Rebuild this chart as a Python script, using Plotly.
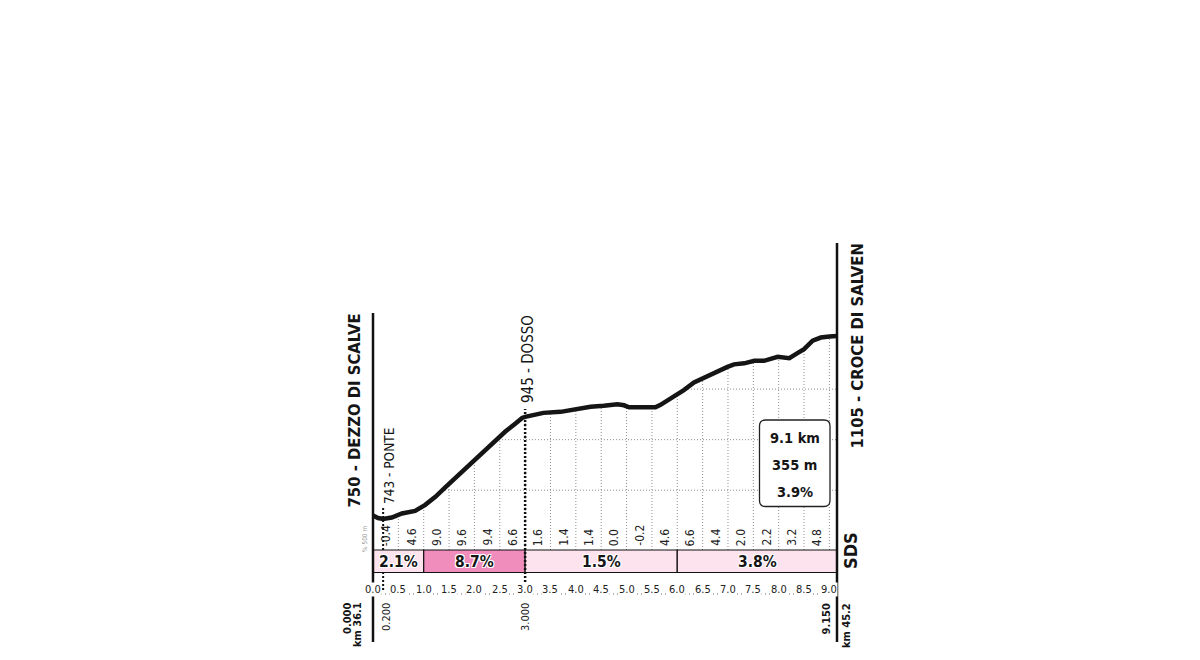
import plotly.graph_objects as go

# ---------------- data ----------------
km = [0.00, 0.10, 0.20, 0.37, 0.57, 0.83, 1.03, 1.23, 1.43, 1.62, 1.82, 2.02, 2.22,
      2.42, 2.61, 2.81, 2.94, 3.00, 3.17, 3.36, 3.70, 3.96, 4.29, 4.55, 4.82, 4.95,
      5.05, 5.28, 5.57, 5.67, 5.80, 6.00, 6.13, 6.33, 6.53, 6.73, 6.99, 7.12, 7.32,
      7.52, 7.71, 7.98, 8.21, 8.37, 8.50, 8.67, 8.83, 9.00, 9.15]
elev = [750, 745, 743, 746, 754, 759, 771, 787, 806, 824, 841, 860, 880,
        899, 916, 932, 943, 945, 949, 953, 955, 960, 965, 967, 970, 968,
        964, 964, 964, 969, 977, 988, 998, 1013, 1023, 1031, 1044, 1049, 1051,
        1056, 1056, 1064, 1061, 1071, 1079, 1096, 1102, 1104, 1105]

km_ticks = [0.0, 0.5, 1.0, 1.5, 2.0, 2.5, 3.0, 3.5, 4.0, 4.5, 5.0, 5.5, 6.0, 6.5,
            7.0, 7.5, 8.0, 8.5, 9.0]
km_tick_labels = ["0.0", "0.5", "1.0", "1.5", "2.0", "2.5", "3.0", "3.5", "4.0", "4.5",
                  "5.0", "5.5", "6.0", "6.5", "7.0", "7.5", "8.0", "8.5", "9.0"]
grad_500 = ["-0.4", "4.6", "9.0", "9.6", "9.4", "6.6", "1.6", "1.4", "1.4", "0.0",
            "-0.2", "4.6", "6.6", "4.4", "2.0", "2.2", "3.2", "4.8"]
elev_grid = [800, 900, 1000]

seg_start = [0.0, 1.0, 3.0, 6.0]
seg_end = [1.0, 3.0, 6.0, 9.15]
seg_pct = ["2.1%", "8.7%", "1.5%", "3.8%"]
seg_color = ["#fde3ee", "#f08dbd", "#fde3ee", "#fde3ee"]

start_name = "750 - DEZZO DI SCALVE"
end_name = "1105 - CROCE DI SALVEN"
poi_km = [0.2, 3.0]
poi_name = ["743 - PONTE", "945 - DOSSO"]
stats = ["9.1 km", "355 m", "3.9%"]
total_km = 9.15

FONT = "DejaVu Sans Condensed, DejaVu Sans, sans-serif"

# --------------- pixel helpers (layout positions) ---------------
L, T, B = 373, 230, 650
R = 1200 - 363
K = 1.978  # metres per pixel
PXKM = (R - L) / total_km


def ey(py):
    return 750 + (515.5 - py) * K


def kx(px):
    return (px - L) / PXKM


def xp(px):
    return (px - L) / (R - L)


def yp(py):
    return (B - py) / (B - T)


y_top = ey(T)
y_bot = ey(B)

fig = go.Figure()

# invisible top boundary for the white mask above the profile
fig.add_trace(go.Scatter(x=km, y=[y_top] * len(km), mode="lines",
                         line=dict(width=0, color="white"), hoverinfo="skip",
                         showlegend=False))
fig.add_trace(go.Scatter(x=km, y=elev, mode="lines", fill="tonexty",
                         fillcolor="white",
                         line=dict(color="#151515", width=4.5),
                         hoverinfo="skip", showlegend=False))

GRID = dict(color="#8f8f8f", width=1, dash="1px,2px")
DOTS = dict(color="#111", width=2, dash="2px,2px")

shapes = []
strip_top = ey(550)
strip_bot = ey(572.5)
for t in km_ticks[1:]:
    shapes.append(dict(type="line", xref="x", yref="y", x0=t, x1=t,
                       y0=strip_top, y1=y_top, layer="below", line=GRID))
for g in elev_grid:
    shapes.append(dict(type="line", xref="x", yref="y", x0=0, x1=total_km,
                       y0=g, y1=g, layer="below", line=GRID))

# Ponte marker line (under strip)
shapes.append(dict(type="line", xref="x", yref="y", x0=poi_km[0], x1=poi_km[0],
                   y0=ey(590), y1=ey(507), layer="above", line=DOTS))

# gradient strip
for s, e, c in zip(seg_start, seg_end, seg_color):
    shapes.append(dict(type="rect", xref="x", yref="y", x0=s, x1=e,
                       y0=strip_bot, y1=strip_top, layer="above",
                       fillcolor=c, line=dict(color="#111", width=1.2)))

# Dosso marker line
shapes.append(dict(type="line", xref="x", yref="y", x0=poi_km[1], x1=poi_km[1],
                   y0=ey(594), y1=ey(409), layer="above",
                   line=dict(color="#111", width=2.5, dash="2px,2px")))

# km dotted baseline
shapes.append(dict(type="line", xref="x", yref="y", x0=0, x1=total_km,
                   y0=ey(594), y1=ey(594), layer="below",
                   line=dict(color="#666", width=1, dash="1px,3px")))

# borders
shapes.append(dict(type="line", xref="paper", yref="paper", x0=0, x1=0,
                   y0=yp(642), y1=yp(313), line=dict(color="#111", width=2.5)))
shapes.append(dict(type="line", xref="paper", yref="paper", x0=1, x1=1,
                   y0=yp(642), y1=yp(243), line=dict(color="#111", width=2.5)))

# stats box with rounded corners
bx0, bx1 = kx(759.5), kx(830)
by0, by1 = ey(506.5), ey(420)
rx, ry = 6 / PXKM, 6 * K
path = (f"M {bx0+rx},{by1} L {bx1-rx},{by1} Q {bx1},{by1} {bx1},{by1-ry} "
        f"L {bx1},{by0+ry} Q {bx1},{by0} {bx1-rx},{by0} "
        f"L {bx0+rx},{by0} Q {bx0},{by0} {bx0},{by0+ry} "
        f"L {bx0},{by1-ry} Q {bx0},{by1} {bx0+rx},{by1} Z")
shapes.append(dict(type="path", xref="x", yref="y", path=path, layer="above",
                   fillcolor="white", line=dict(color="#222", width=1.3)))

ann = []


def P(px, py, text, size, bold=False, angle=0, color="#151515", xa="center",
      ya="middle", **kw):
    """annotation placed by pixel position (paper coordinates)"""
    ann.append(dict(x=xp(px), y=yp(py), xref="paper", yref="paper", text=text,
                    showarrow=False, textangle=angle, xanchor=xa, yanchor=ya,
                    font=dict(family=FONT, size=size, color=color,
                              weight="bold" if bold else "normal"), **kw))


def D(x, y, text, size, bold=False, angle=0, color="#151515", ya="middle", **kw):
    """annotation placed on the data axes"""
    ann.append(dict(x=x, y=y, xref="x", yref="y", text=text, showarrow=False,
                    textangle=angle, xanchor="center", yanchor=ya,
                    font=dict(family=FONT, size=size, color=color,
                              weight="bold" if bold else "normal"), **kw))


# titles
P(354, 410.5, start_name, 16.5, bold=True, angle=-90)
P(857, 346.5, end_name, 16.5, bold=True, angle=-90)
# POIs
P(389, 506, poi_name[0], 13.5, angle=-90, ya="bottom")
P(528, 405, poi_name[1], 15, angle=-90, ya="bottom")

# gradient per 500 m labels
for i, g in enumerate(grad_500):
    D(km_ticks[i] + 0.25, ey(548), g, 12, angle=-90, ya="bottom", color="#222")
P(365, 539, "% 500 m", 6.5, angle=-90, color="#9a9a9a")

# strip percentages
for s, e, p in zip(seg_start, seg_end, seg_pct):
    ann.append(dict(x=(s + e) / 2, y=ey(561.5), xref="x", yref="y", text=p,
                    showarrow=False,
                    font=dict(family=FONT, size=15.5, color="#151515", weight="bold",
                              shadow="1px 1px 0 #fff, -1px -1px 0 #fff, 1px -1px 0 #fff, -1px 1px 0 #fff")))

# km tick labels
for t, lab in zip(km_ticks, km_tick_labels):
    D(t, ey(589.5), lab, 11, color="#222", bgcolor="white", borderpad=0)

# distance labels
P(347.5, 601, "0.000", 11, bold=True, angle=-90, ya="top")
P(357.5, 600, "km 36.1", 11, bold=True, angle=-90, ya="top")
P(386, 601, "0.200", 11, angle=-90, ya="top", color="#222")
P(525, 601, "3.000", 11, angle=-90, ya="top", color="#222")
P(826, 602, "9.150", 11, bold=True, angle=-90, ya="top")
P(846.5, 601, "km 45.2", 11, bold=True, angle=-90, ya="top")

# stats box text
for txt, py in zip(stats, [438, 465, 492]):
    P(794.5, py, txt, 14.5, bold=True)

# logo
P(850, 551, "SDS", 18, bold=True, angle=-90)

fig.update_layout(
    width=1200, height=660,
    margin=dict(l=L, r=1200 - R, t=T, b=660 - B),
    paper_bgcolor="white", plot_bgcolor="white",
    xaxis=dict(range=[0, total_km], visible=False, fixedrange=True),
    yaxis=dict(range=[y_bot, y_top], visible=False, fixedrange=True),
    shapes=shapes, annotations=ann, showlegend=False,
)

fig.write_html("out.html", config={"displayModeBar": False},
               post_script="document.body.style.margin='0';")
